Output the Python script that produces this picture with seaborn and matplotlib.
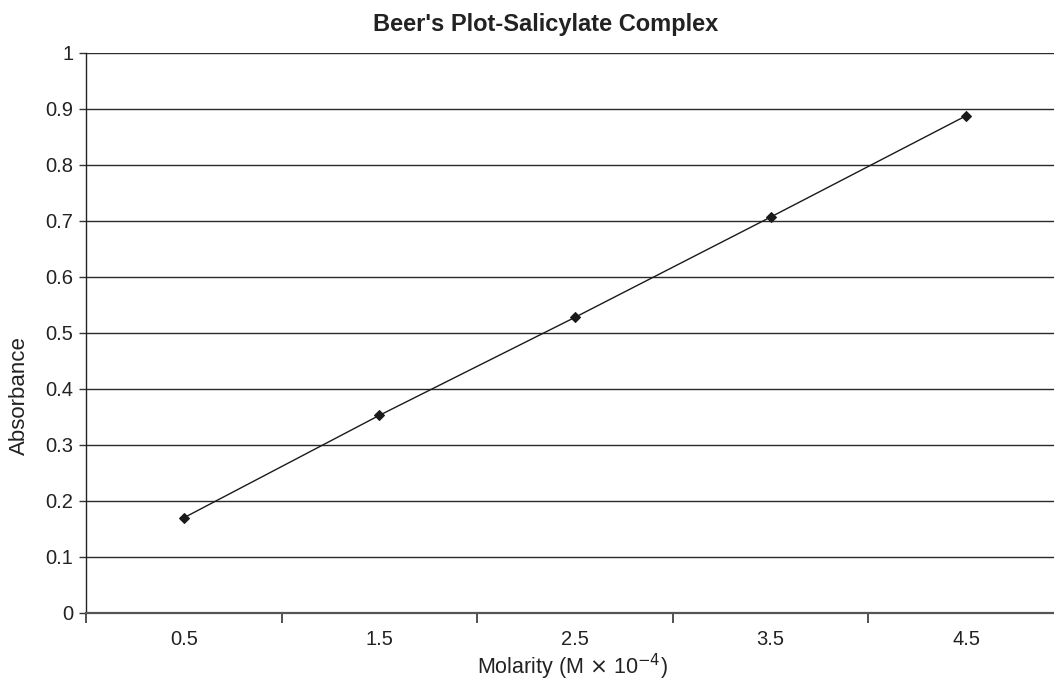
import matplotlib
matplotlib.use("Agg")
import matplotlib.pyplot as plt
from matplotlib.ticker import FixedLocator
import seaborn as sns
import pandas as pd

# Molarity (M x 10^-4) and measured absorbance
molarity = ["0.5", "1.5", "2.5", "3.5", "4.5"]
absorbance = [0.170, 0.353, 0.528, 0.707, 0.888]
y_ticks = [0, 0.1, 0.2, 0.3, 0.4, 0.5, 0.6, 0.7, 0.8, 0.9, 1.0]
y_labels = ["0", "0.1", "0.2", "0.3", "0.4", "0.5", "0.6", "0.7", "0.8", "0.9", "1"]

df = pd.DataFrame({"Molarity": molarity, "Absorbance": absorbance})

sns.set_theme(style="white")
plt.rcParams["font.family"] = ["Liberation Sans", "DejaVu Sans"]

W, H = 1054, 680
fig = plt.figure(figsize=(W / 100, H / 100), dpi=100)
ax = fig.add_axes([86 / W, 1 - 613 / H, (1064 - 86) / W, (613 - 53) / H])

sns.pointplot(data=df, x="Molarity", y="Absorbance", color="#1a1a1a",
              markers="D", markersize=5, linewidth=1.0, ax=ax)

ax.set_xlim(-0.5, len(molarity) - 0.5)
ax.set_ylim(0, 1)

# horizontal gridlines at every 0.1
ax.set_yticks(y_ticks)
ax.set_yticklabels(y_labels)
for yv in y_ticks[1:]:
    ax.axhline(yv, color="#2a2a2a", lw=1.0, zorder=0)

# category boundaries get the tick marks, labels sit between them
ax.xaxis.set_minor_locator(FixedLocator([i - 0.5 for i in range(len(molarity) + 1)]))
ax.tick_params(axis="x", which="major", length=0, pad=12, labelsize=14.5, colors="#222222")
ax.tick_params(axis="x", which="minor", length=7, width=1.2, color="#333333",
               direction="out", bottom=True)
ax.tick_params(axis="y", which="major", length=5, width=1.0, color="#333333",
               direction="out", pad=4, labelsize=14.5, labelcolor="#222222", left=True)

for side in ["top", "right"]:
    ax.spines[side].set_visible(False)
ax.spines["left"].set_color("#222222")
ax.spines["left"].set_linewidth(1.0)
ax.spines["bottom"].set_color("#555555")
ax.spines["bottom"].set_linewidth(1.6)

ax.set_xlabel("")
ax.set_ylabel("")
fig.text(546 / W, 1 - 24 / H, "Beer's Plot-Salicylate Complex", ha="center", va="center",
         fontsize=17, fontweight="bold", color="#222222")
fig.text(572 / W, 1 - 667 / H, "Molarity (M $\\times$ 10$^{-4}$)", ha="center", va="center",
         fontsize=15.5, color="#222222")
fig.text(19 / W, 1 - 396 / H, "Absorbance", ha="center", va="center", rotation=90,
         fontsize=16, color="#222222")

fig.savefig("out.png", dpi=100, facecolor="white")
